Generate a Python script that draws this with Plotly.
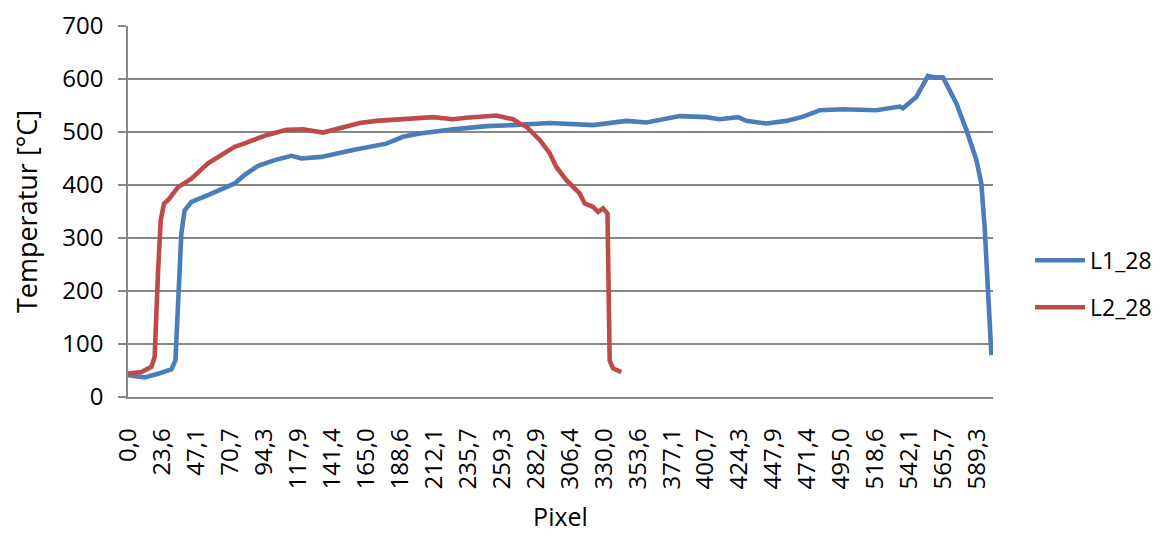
import plotly.graph_objects as go

# ---- data ----
l1_x = [0, 11.6, 20.8, 30.1, 32.9, 34.7, 37.0, 39.3, 44.0, 55.5, 64.8, 74.0, 80.9, 90.2,
        101.8, 113.3, 120.3, 134.1, 156.1, 179.2, 190.7, 202.3, 225.4, 248.6, 267.0,
        292.5, 322.5, 345.7, 359.6, 382.7, 401.2, 410.4, 423.1, 428.9, 442.8, 456.7,
        468.2, 479.8, 495.9, 519.1, 535.3, 537.5, 546.8, 554.9, 559.5, 565.3, 574.6,
        581.5, 588.5, 591.9, 594.2, 597.2, 598.9]
l1_y = [41, 37, 44, 52, 69, 170, 308, 352, 368, 381, 393, 403, 419, 436,
        447, 455, 450, 453, 466, 478, 491, 497, 505, 511, 513,
        517, 513, 521, 518, 530, 528, 524, 528, 521, 516, 521,
        529, 541, 543, 541, 548, 545, 566, 606, 603, 603, 554,
        504, 447, 403, 321, 157, 79]

l2_x = [0, 9.3, 16.2, 18.5, 20.8, 22.7, 25.0, 27.7, 34.7, 44.0, 55.5, 67.1, 74.0, 83.2,
        96.0, 109.9, 121.4, 135.3, 142.2, 149.1, 160.7, 172.3, 188.5, 211.5, 225.4,
        234.7, 255.5, 262.5, 267.0, 271.7, 276.3, 285.6, 292.5, 297.1, 304.1, 313.3,
        316.8, 322.5, 326.0, 329.5, 332.6, 334.1, 336.4, 342.2]
l2_y = [44, 47, 57, 76, 233, 334, 365, 371, 396, 412, 441, 460, 472, 481,
        494, 504, 505, 499, 504, 507, 517, 521, 524, 528, 524,
        527, 531, 527, 524, 516, 510, 485, 460, 434, 409, 384,
        365, 359, 349, 356, 346, 69, 54, 47]

tick_labels = ["0,0", "23,6", "47,1", "70,7", "94,3", "117,9", "141,4", "165,0", "188,6",
               "212,1", "235,7", "259,3", "282,9", "306,4", "330,0", "353,6", "377,1",
               "400,7", "424,3", "447,9", "471,4", "495,0", "518,6", "542,1", "565,7",
               "589,3"]
tick_values = [k * 165 / 7 for k in range(len(tick_labels))]

series_names = ["L1_28", "L2_28"]
colors = ["#4A7EBB", "#BE4B48"]

FONT = "Open Sans"
GRID = "#878787"

fig = go.Figure()
for i, (xs, ys) in enumerate([(l1_x, l1_y), (l2_x, l2_y)]):
    fig.add_trace(go.Scatter(x=xs, y=ys, mode="lines", name=series_names[i],
                             legendgroup=series_names[i],
                             line=dict(color=colors[i], width=4.6)))

fig.update_layout(
    width=1153, height=528,
    margin=dict(l=120, r=168, t=18, b=139, autoexpand=False),
    paper_bgcolor="white", plot_bgcolor="white",
    font=dict(family=FONT, size=24, color="black"),
    showlegend=True,
    legend=dict(x=1.0428, xanchor="left", y=0.305, yanchor="middle",
                font=dict(size=23), traceorder="grouped", tracegroupgap=14,
                itemwidth=50, bgcolor="rgba(0,0,0,0)"),
    xaxis=dict(range=[0, 600], tickmode="array", tickvals=tick_values,
               ticktext=tick_labels, tickangle=-90, ticks="", showgrid=False,
               zeroline=False, showline=True, linecolor=GRID, linewidth=1.5,
               ticklabelstandoff=20, automargin=False,
               tickfont=dict(size=24),
               title=dict(text="Pixel", font=dict(size=25), standoff=20)),
    xaxis2=dict(range=[0, 600], overlaying="x", anchor="y", side="bottom",
                tickmode="linear", tick0=0, dtick=150 / 7, ticks="outside",
                ticklen=8, tickwidth=1.5, tickcolor=GRID, showticklabels=False,
                showgrid=False, zeroline=False, showline=False, automargin=False),
    yaxis=dict(range=[0, 700], dtick=100, ticks="outside", ticklen=8,
               tickwidth=1.5, tickcolor=GRID, showgrid=True, gridcolor=GRID,
               gridwidth=1.5, zeroline=False, showline=True, linecolor=GRID,
               linewidth=1.5, ticklabelstandoff=10, tickfont=dict(size=24),
               automargin=False,
               title=dict(text="Temperatur [°C]", font=dict(size=27), standoff=21)),
)

fig.write_html("out.html")
